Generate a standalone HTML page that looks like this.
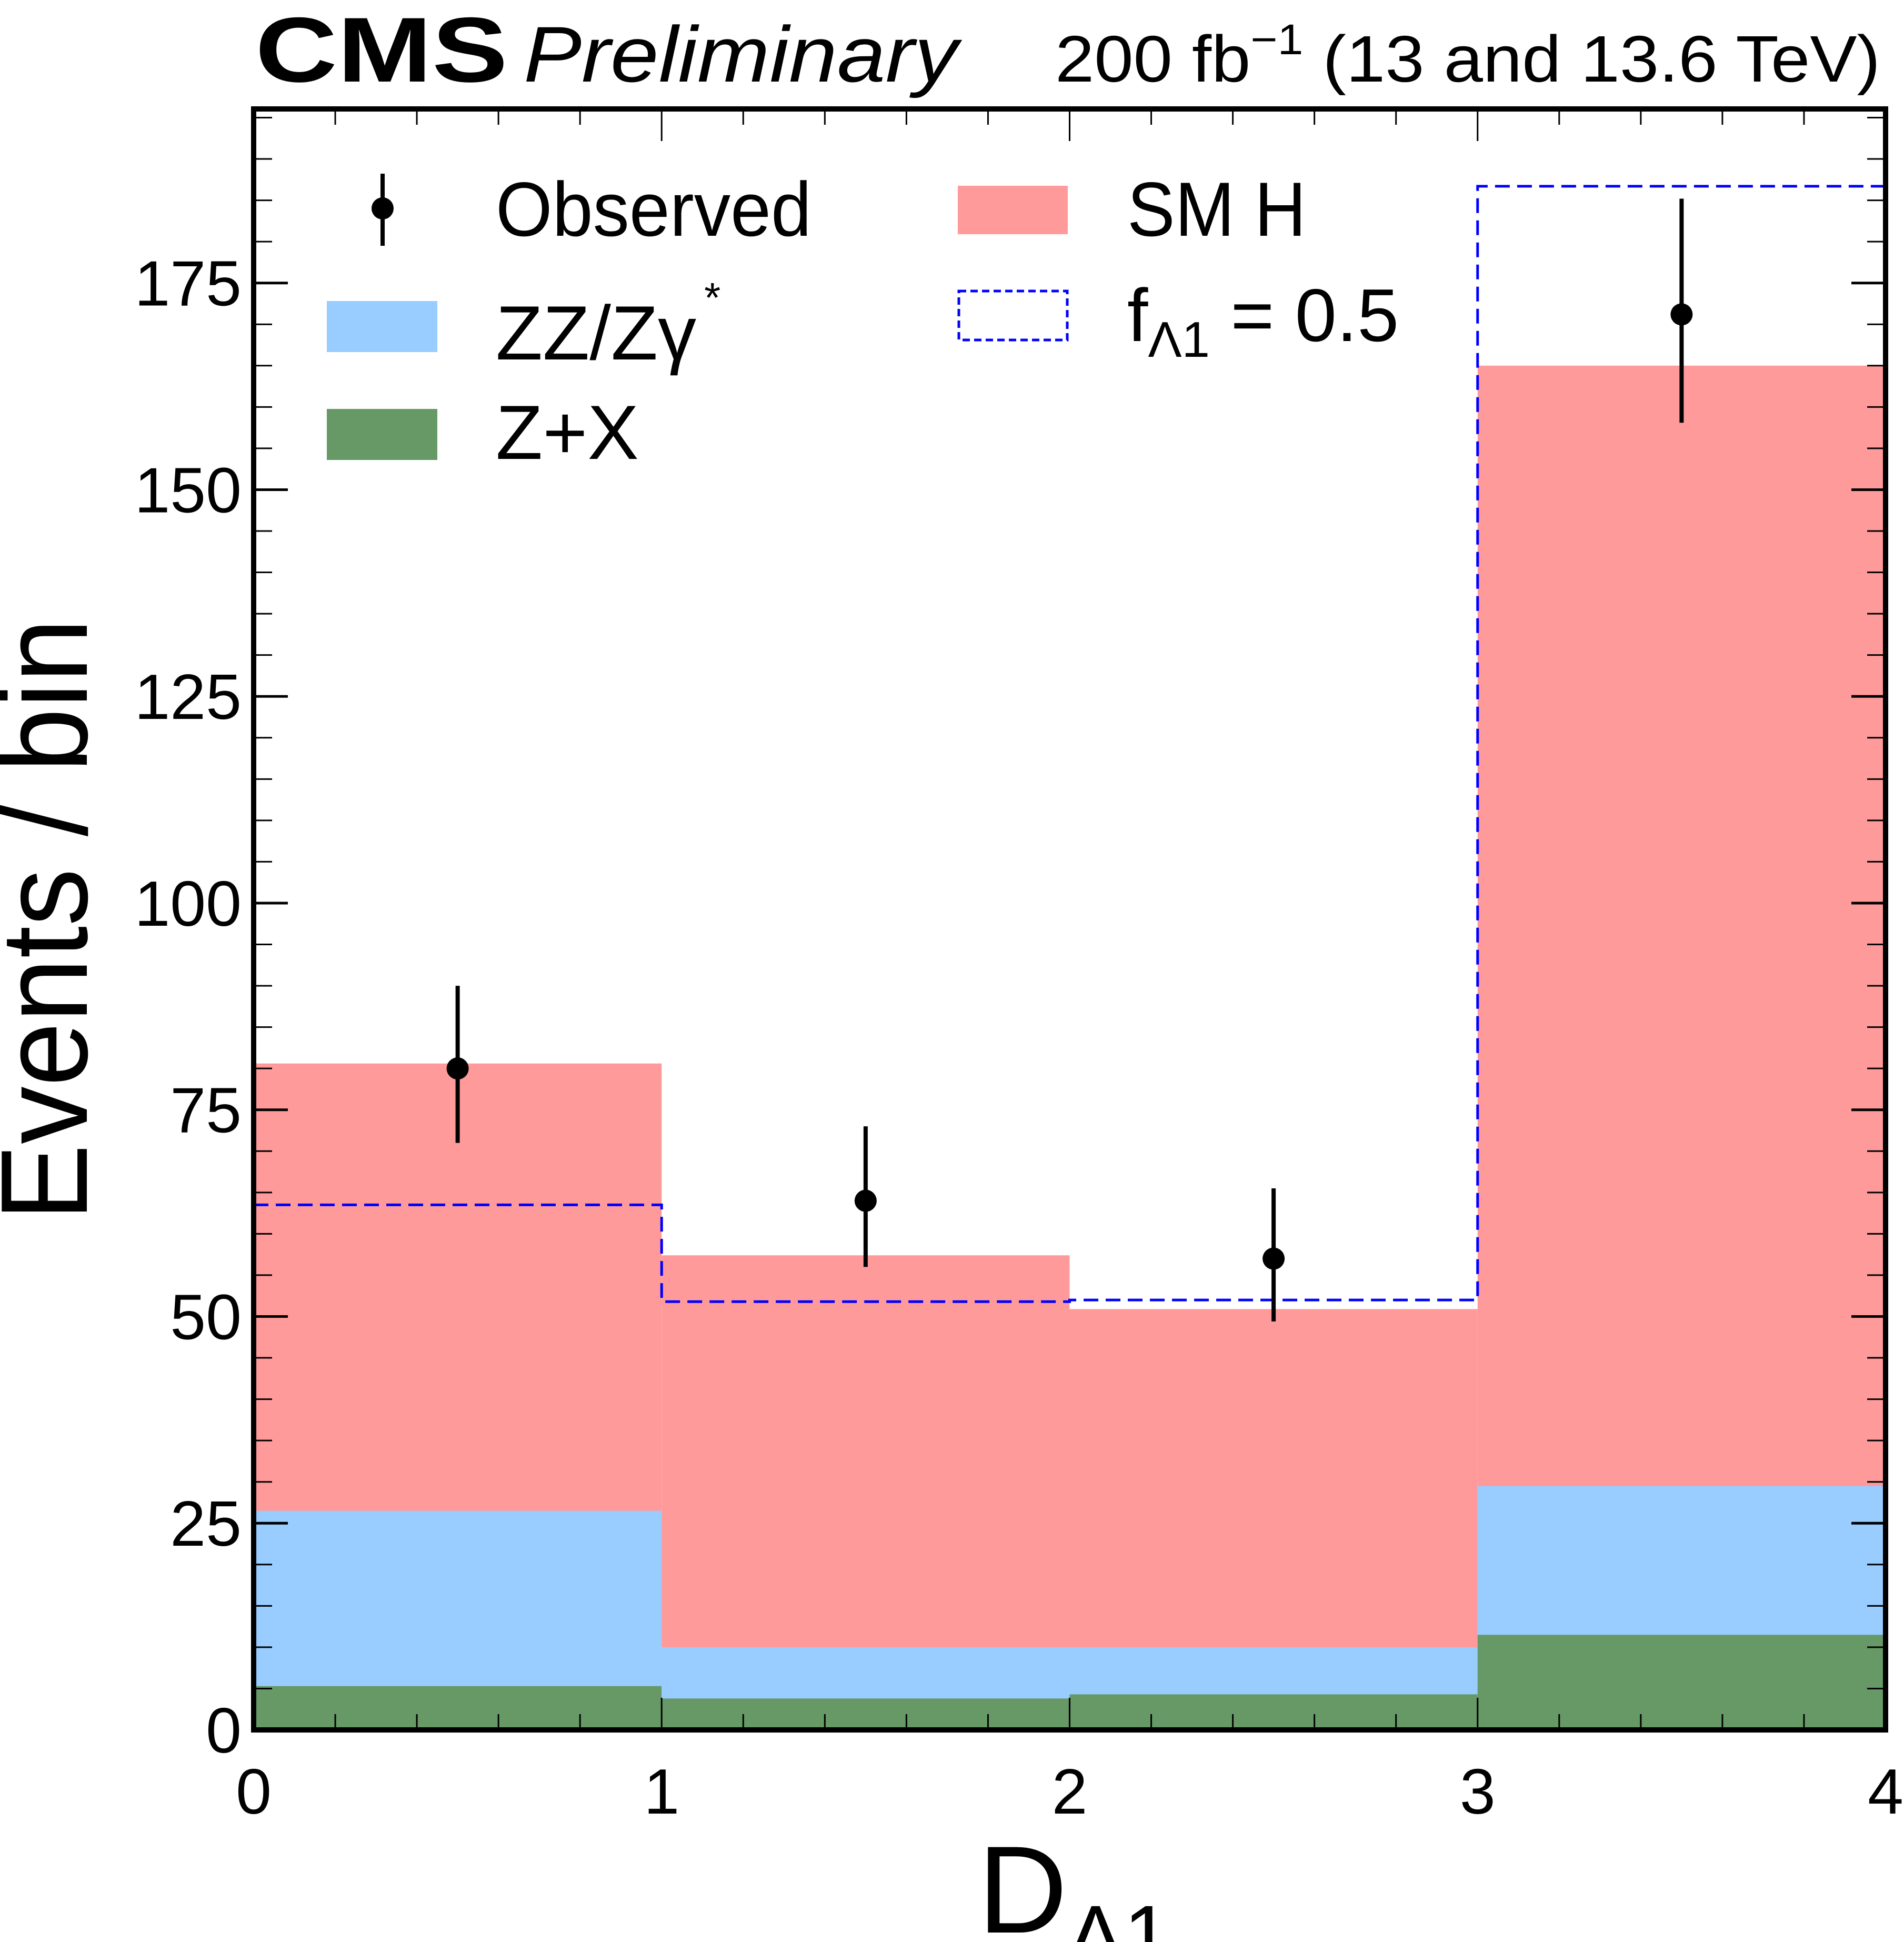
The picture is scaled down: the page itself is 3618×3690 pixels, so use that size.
<!DOCTYPE html>
<html><head><meta charset="utf-8"><style>
html,body{margin:0;padding:0;background:#fff}
svg{display:block;font-family:"Liberation Sans",sans-serif}
</style></head><body>
<svg id="chart" width="3618" height="3690" viewBox="0 0 3618 3690" xmlns="http://www.w3.org/2000/svg">
<g id="bars"></g>
<g id="axes"></g>
<g id="legend">
  <line x1="727" y1="330" x2="727" y2="467" stroke="#000" stroke-width="8"/>
  <circle cx="727" cy="396" r="21" fill="#000"/>
  <text x="942" y="448" font-size="146" textLength="600" lengthAdjust="spacingAndGlyphs">Observed</text>
  <rect x="1820" y="353" width="209" height="92" fill="#ff9a9a"/>
  <text x="2142" y="448" font-size="146" textLength="340" lengthAdjust="spacingAndGlyphs">SM H</text>
  <rect x="621" y="572" width="210" height="97" fill="#99ccff"/>
  <text x="942" y="683" font-size="146">ZZ/Zγ<tspan dy="-90" dx="15" font-size="80">*</tspan></text>
  <rect x="1822" y="553" width="206" height="93" fill="none" stroke="#0000ff" stroke-width="5" stroke-dasharray="14,8"/>
  <text x="2142" y="648" font-size="142">f<tspan font-size="96" dy="30">Λ1</tspan><tspan dy="-30"> = 0.5</tspan></text>
  <rect x="621" y="777" width="210" height="97" fill="#669966"/>
  <text x="942" y="872" font-size="146">Z+X</text>
</g>
<text x="485" y="155" font-size="175" font-weight="bold" textLength="480" lengthAdjust="spacingAndGlyphs">CMS</text>
<text x="995" y="155" font-size="150" font-style="italic" textLength="825" lengthAdjust="spacingAndGlyphs">Preliminary</text>
<text x="2005" y="155" font-size="125" textLength="1568" lengthAdjust="spacingAndGlyphs">200 fb<tspan dy="-52" font-size="82">−1</tspan><tspan dy="52"> (13 and 13.6 TeV)</tspan></text>
<text transform="translate(165,2320) rotate(-90)" font-size="235" textLength="1145" lengthAdjust="spacingAndGlyphs">Events / bin</text>
<text x="1858" y="3672" font-size="236">D<tspan font-size="160" dy="60">Λ1</tspan></text>
</svg>
<script>
const binEdges = [0, 1, 2, 3, 4];
const zxValues = [5.3, 3.8, 4.3, 11.5];
const zzStacked = [26.5, 10.0, 10.0, 29.5];
const smhStacked = [80.6, 57.4, 50.9, 165.0];
const fa1Values = [63.5, 51.8, 52.0, 186.7];
const obsValues = [80.0, 64.0, 57.0, 171.2];
const obsLow = [71.0, 56.0, 49.4, 158.1];
const obsHigh = [90.0, 73.0, 65.5, 185.2];
const yTicks = [0, 25, 50, 75, 100, 125, 150, 175];
const xTicks = [0, 1, 2, 3, 4];

const L = 482, R = 3583, T = 207, B = 3287;
const xMin = 0, xMax = 4, yMin = 0, yMax = 196.05;
const X = v => L + (v - xMin) / (xMax - xMin) * (R - L);
const Y = v => B - (v - yMin) / (yMax - yMin) * (B - T);
const NS = 'http://www.w3.org/2000/svg';
function mk(tag, attrs, parent) {
  const e = document.createElementNS(NS, tag);
  for (const k in attrs) e.setAttribute(k, attrs[k]);
  parent.appendChild(e);
  return e;
}
const bars = document.getElementById('bars');
const axes = document.getElementById('axes');
for (let i = 0; i < 4; i++) {
  const x0 = X(binEdges[i]), x1 = X(binEdges[i + 1]);
  let r = mk('rect', {x: x0, y: Y(smhStacked[i]), width: x1 - x0, height: Y(0) - Y(smhStacked[i]), fill: '#ff9a9a'}, bars);
  
  
  r = mk('rect', {x: x0, y: Y(zzStacked[i]), width: x1 - x0, height: Y(0) - Y(zzStacked[i]), fill: '#99ccff'}, bars);
  
  
  r = mk('rect', {x: x0, y: Y(zxValues[i]), width: x1 - x0, height: Y(0) - Y(zxValues[i]), fill: '#669966'}, bars);
  
  
}
let d = '';
for (let i = 0; i < 4; i++) {
  const x0 = X(binEdges[i]), x1 = X(binEdges[i + 1]), y = Y(fa1Values[i]);
  d += (i === 0 ? 'M' : 'L') + x0 + ',' + y + ' L' + x1 + ',' + y + ' ';
}
const fl = mk('path', {d: d, fill: 'none', stroke: '#0000ff', 'stroke-width': 5, 'stroke-dasharray': '28,14'}, bars);


for (let i = 0; i < 4; i++) {
  const cx = X((binEdges[i] + binEdges[i + 1]) / 2);
  const eb = mk('line', {x1: cx, x2: cx, y1: Y(obsLow[i]), y2: Y(obsHigh[i]), stroke: '#000', 'stroke-width': 8}, bars);
  
  
  const c = mk('circle', {cx: cx, cy: Y(obsValues[i]), r: 21, fill: '#000'}, bars);
  
  
}
for (let v = 0; v <= 195.001; v += 5) {
  const major = Math.abs(v % 25) < 0.01;
  const len = major ? 65 : 35, y = Y(v);
  const t1 = mk('line', {x1: L, x2: L + len, y1: y, y2: y, stroke: '#000', 'stroke-width': major ? 5 : 3}, axes);
  
  
  const t2 = mk('line', {x1: R, x2: R - len, y1: y, y2: y, stroke: '#000', 'stroke-width': major ? 5 : 3}, axes);
  
  
}
for (let k = 0; k <= 20; k++) {
  const v = k * 0.2, major = k % 5 === 0, len = major ? 61 : 30, x = X(v);
  const t1 = mk('line', {x1: x, x2: x, y1: B, y2: B - len, stroke: '#000', 'stroke-width': 3}, axes);
  
  
  const t2 = mk('line', {x1: x, x2: x, y1: T, y2: T + len, stroke: '#000', 'stroke-width': 3}, axes);
  
  
}
yTicks.forEach(v => {
  const t = mk('text', {x: 459, y: Y(v) + 43, 'font-size': 122, 'text-anchor': 'end'}, axes);
  t.textContent = v;
  
  
});
xTicks.forEach(v => {
  const t = mk('text', {x: X(v), y: 3446, 'font-size': 122, 'text-anchor': 'middle'}, axes);
  t.textContent = v;
  
  
});
const fr = mk('rect', {x: L, y: T, width: R - L, height: B - T, fill: 'none', stroke: '#000', 'stroke-width': 10}, axes);


</script>
</body></html>
